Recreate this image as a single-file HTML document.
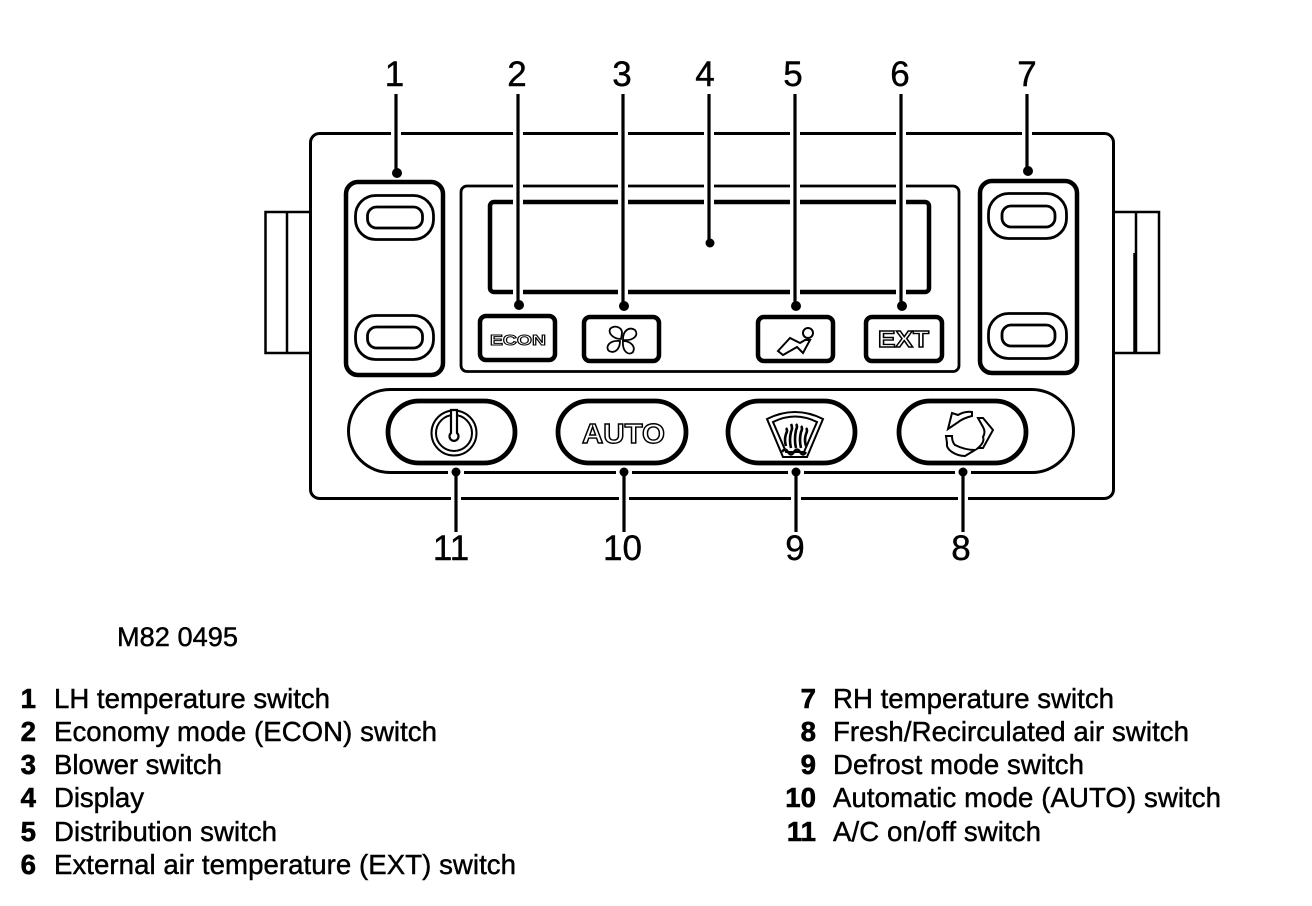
<!DOCTYPE html>
<html><head><meta charset="utf-8"><style>
html,body{margin:0;padding:0;background:#fff;width:1312px;height:906px;overflow:hidden}
svg{display:block}
text{font-family:"Liberation Sans",sans-serif;fill:#000}
.n{font-size:35px;text-anchor:middle;stroke:#000;stroke-width:.4px}
.l{font-size:27.6px;stroke:#000;stroke-width:.45px}
.b{font-size:27.6px;font-weight:bold;text-anchor:end;stroke:#000;stroke-width:.6px}
.o{font-weight:bold;fill:#fff;stroke:#000;stroke-width:1.4px}
</style></head><body>
<svg width="1312" height="906" viewBox="0 0 1312 906" xmlns="http://www.w3.org/2000/svg">
<g fill="none" stroke="#000">
<rect x="310.5" y="133.5" width="803" height="365" rx="9" stroke-width="3"/>
<path d="M310 212H265.500V353H310M287 212V353" stroke-width="2.500"/>
<path d="M1114 212H1159V353H1114M1136 212V353" stroke-width="2.500"/>
<path d="M1135 253V353" stroke-width="3.500"/>

<rect x="346" y="182" width="97" height="193" rx="12" stroke-width="4.500"/>
<rect x="355.500" y="195.500" width="78" height="44" rx="20" stroke-width="2.800"/>
<rect x="367.500" y="207" width="55" height="21" rx="9" stroke-width="2.800"/>
<rect x="355.500" y="315.500" width="78" height="44" rx="20" stroke-width="2.800"/>
<rect x="367.500" y="327" width="55" height="21" rx="9" stroke-width="2.800"/>

<rect x="980" y="181" width="97" height="192" rx="12" stroke-width="4.500"/>
<rect x="988.500" y="193.500" width="78" height="45" rx="20" stroke-width="2.800"/>
<rect x="1002" y="206" width="53" height="21" rx="9" stroke-width="2.800"/>
<rect x="988.500" y="313.500" width="78" height="45" rx="20" stroke-width="2.800"/>
<rect x="1002" y="325" width="53" height="21" rx="9" stroke-width="2.800"/>

<rect x="461" y="186" width="498" height="185.500" rx="6" stroke-width="2.800"/>
<rect x="490" y="202" width="439" height="90" rx="4" stroke-width="4.500"/>

<rect x="480" y="316" width="75" height="44" rx="6" stroke-width="4.500"/>
<rect x="584" y="317" width="75" height="44" rx="6" stroke-width="4.500"/>
<rect x="758" y="317" width="75" height="44" rx="6" stroke-width="4.500"/>
<rect x="866" y="317" width="76" height="44" rx="6" stroke-width="4.500"/>

<rect x="348.500" y="389.500" width="725" height="83" rx="41.500" stroke-width="3"/>
<rect x="388" y="401" width="127" height="62" rx="31" stroke-width="4.800"/>
<rect x="558" y="401" width="128" height="62" rx="31" stroke-width="4.800"/>
<rect x="728" y="401" width="127" height="62" rx="31" stroke-width="4.800"/>
<rect x="899" y="401" width="127" height="62" rx="31" stroke-width="4.800"/>

<!-- power -->
<circle cx="454" cy="433" r="22.500" stroke-width="2"/>
<circle cx="454" cy="433" r="18" stroke-width="2"/>
<path d="M451 410H457V433A4.500 4.500 0 1 1 451 433Z" fill="#fff" stroke-width="2.200"/>

<!-- fan -->
<g stroke-width="1.800" fill="#fff">
<path d="M621 339C614 339 608 334 610 329C613 325 622 326 622 333Z"/>
<path d="M623 339C623 331 629 326 635 330C639 335 634 341 623 340Z"/>
<path d="M623 341C630 341 636 346 633 352C629 356 622 352 623 341Z"/>
<path d="M620 341C620 349 615 354 609 351C605 347 609 340 620 341Z"/>
</g>

<!-- seat -->
<circle cx="808" cy="333" r="5" stroke-width="2"/>
<path d="M778 351L790 338L800 343L805 340L810 340L803 353L797 347L783 355Z" stroke-width="2" fill="#fff"/>

<!-- defrost -->
<g stroke-width="2">
<path d="M767 419Q795 405 823 419L807 457H783Z"/>
<path d="M773 422Q795 411 817 422L804 452H786Z"/>
<path d="M786 446Q784 440 786 434Q788 430 786 428M791 448Q789 440 791 432Q793 428 791 424M796 448Q794 440 796 430Q798 426 796 424M801 448Q799 440 801 432Q803 428 801 426M806 446Q804 440 806 434Q808 430 806 428" stroke-width="2.600"/>
<path d="M782 452Q785 447 788 452T794 452T800 452T806 452" stroke-width="2.400"/>
</g>

<!-- recirculate -->
<g stroke-width="2" fill="#fff">
<path d="M948 429L952 413L958 415Q965 411 972 412L972 416Q963 418 957 423Z"/>
<path d="M978 418L983 418L993 430L983 448L978 448Q985 442 983 437Q986 432 983 427Z"/>
<path d="M946 436L952 436Q952 442 955 445Q965 450 975 450L965 456Q958 456 952 452Q946 448 947 443Z"/>
</g>
</g>

<text class="o" x="490" y="345" font-size="15" textLength="56" lengthAdjust="spacingAndGlyphs" style="stroke-width:1px">ECON</text>
<text class="o" x="878" y="347" font-size="23" textLength="51" lengthAdjust="spacingAndGlyphs">EXT</text>
<text class="o" x="582" y="443" font-size="27.500" textLength="83" lengthAdjust="spacingAndGlyphs">AUTO</text>

<!-- leaders: white halo then black -->
<g stroke="#fff" stroke-width="10" fill="none">
<path d="M396 95V165M518 95V297M623 95V298M709 95V236M795 95V298M901 95V298M1027 95V163"/>
<path d="M456 480V531M624 480V531M796 480V531M963 480V531"/>
<path d="M448 473H464M616 473H632M788 473H804M955 473H971" stroke-width="4"/>
</g>
<g stroke="#000" stroke-width="3.200" fill="none">
<path d="M396 94V173M518 94V305M623 94V306M709 94V243M795 94V306M901 94V306M1027 94V171"/>
<path d="M456 472V532M624 472V532M796 472V532M963 472V532"/>
</g>
<g fill="#000">
<circle cx="397" cy="173" r="5"/><circle cx="519" cy="305" r="5"/><circle cx="624" cy="306" r="5"/>
<circle cx="710" cy="243" r="4.500"/><circle cx="796" cy="306" r="5"/><circle cx="902" cy="306" r="5"/>
<circle cx="1028" cy="171" r="5"/>
<circle cx="456" cy="472" r="4.500"/><circle cx="624" cy="472" r="4.500"/><circle cx="796" cy="472" r="4.500"/><circle cx="963" cy="472" r="4.500"/>
</g>

<text class="n" x="394.500" y="86">1</text>
<text class="n" x="517" y="86">2</text>
<text class="n" x="622" y="86">3</text>
<text class="n" x="705" y="86">4</text>
<text class="n" x="793" y="86">5</text>
<text class="n" x="900" y="86">6</text>
<text class="n" x="1027" y="86">7</text>
<text class="n" x="451" y="560">11</text>
<text class="n" x="622.500" y="560">10</text>
<text class="n" x="795" y="560">9</text>
<text class="n" x="961" y="560">8</text>

<text class="l" x="117" y="646" style="font-size:27.2px" textLength="121">M82 0495</text>

<text class="b" x="36" y="708">1</text><text class="l" x="54" y="708" textLength="276">LH temperature switch</text>
<text class="b" x="36" y="741">2</text><text class="l" x="54" y="741" textLength="383">Economy mode (ECON) switch</text>
<text class="b" x="36" y="774">3</text><text class="l" x="54" y="774" textLength="168">Blower switch</text>
<text class="b" x="36" y="807">4</text><text class="l" x="54" y="807" textLength="90">Display</text>
<text class="b" x="36" y="841">5</text><text class="l" x="54" y="841" textLength="223">Distribution switch</text>
<text class="b" x="36" y="874">6</text><text class="l" x="54" y="874" textLength="462">External air temperature (EXT) switch</text>

<text class="b" x="816" y="708">7</text><text class="l" x="833" y="708" textLength="281">RH temperature switch</text>
<text class="b" x="816" y="741">8</text><text class="l" x="833" y="741" textLength="356">Fresh/Recirculated air switch</text>
<text class="b" x="816" y="774">9</text><text class="l" x="833" y="774" textLength="251">Defrost mode switch</text>
<text class="b" x="816" y="807">10</text><text class="l" x="833" y="807" textLength="388">Automatic mode (AUTO) switch</text>
<text class="b" x="816" y="841">11</text><text class="l" x="833" y="841" textLength="208">A/C on/off switch</text>
</svg>
</body></html>
